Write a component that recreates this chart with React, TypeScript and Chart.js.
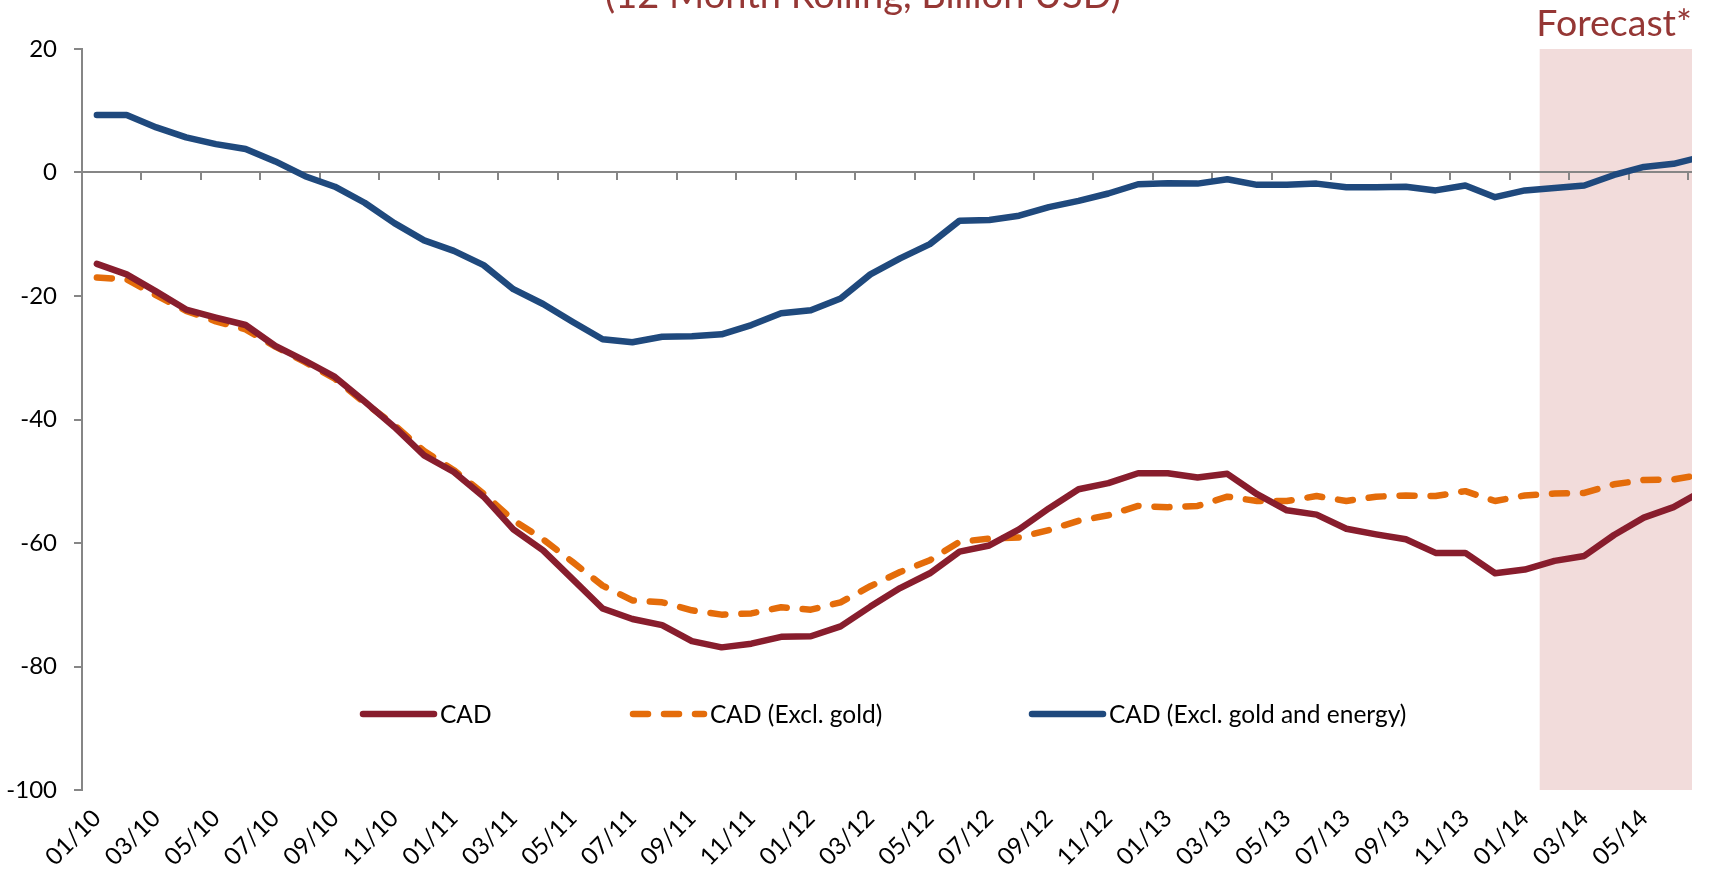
import React, { useEffect, useRef } from 'react';
import { Chart, registerables } from 'chart.js';

Chart.register(...registerables);

const MONTHS = [
  '01/10', '02/10', '03/10', '04/10', '05/10', '06/10', '07/10', '08/10', '09/10', '10/10', '11/10', '12/10',
  '01/11', '02/11', '03/11', '04/11', '05/11', '06/11', '07/11', '08/11', '09/11', '10/11', '11/11', '12/11',
  '01/12', '02/12', '03/12', '04/12', '05/12', '06/12', '07/12', '08/12', '09/12', '10/12', '11/12', '12/12',
  '01/13', '02/13', '03/13', '04/13', '05/13', '06/13', '07/13', '08/13', '09/13', '10/13', '11/13', '12/13',
  '01/14', '02/14', '03/14', '04/14', '05/14', '06/14', '07/14',
];

const CAD = [
  -14.8, -16.5, -19.3, -22.2, -23.5, -24.7, -28.1, -30.5, -33.1, -37.1, -41.2, -45.8,
  -48.5, -52.5, -57.8, -61.2, -65.9, -70.6, -72.3, -73.3, -75.9, -76.9, -76.3, -75.2,
  -75.1, -73.5, -70.3, -67.3, -64.9, -61.4, -60.4, -57.8, -54.4, -51.3, -50.3, -48.7,
  -48.7, -49.4, -48.8, -52.1, -54.7, -55.4, -57.7, -58.6, -59.4, -61.6, -61.6, -64.9,
  -64.3, -62.9, -62.1, -58.7, -55.9, -54.2, -51.5,
];

const CAD_EX_GOLD = [
  -17.0, -17.3, -19.9, -22.4, -24.1, -25.4, -28.2, -30.7, -33.4, -37.3, -40.9, -45.1,
  -48.2, -52.0, -56.3, -59.4, -63.1, -66.9, -69.3, -69.6, -70.9, -71.6, -71.4, -70.4,
  -70.8, -69.6, -67.0, -64.7, -62.8, -59.8, -59.3, -59.1, -57.9, -56.4, -55.5, -54.0,
  -54.2, -54.0, -52.5, -53.2, -53.2, -52.4, -53.2, -52.5, -52.3, -52.4, -51.6, -53.2,
  -52.3, -52.0, -51.9, -50.5, -49.8, -49.7, -48.9,
];

const CAD_EX_GOLD_ENERGY = [
  9.3, 9.3, 7.3, 5.7, 4.6, 3.8, 1.8, -0.6, -2.3, -4.9, -8.2, -11.0,
  -12.7, -15.0, -18.9, -21.3, -24.2, -27.0, -27.5, -26.6, -26.5, -26.2, -24.7, -22.8,
  -22.3, -20.4, -16.5, -13.9, -11.6, -7.8, -7.7, -7.0, -5.6, -4.6, -3.4, -1.9,
  -1.75, -1.8, -1.1, -2.0, -2.0, -1.8, -2.4, -2.4, -2.3, -2.9, -2.1, -4.0,
  -2.9, -2.5, -2.1, -0.4, 0.9, 1.4, 2.6,
];

const SERIES_NAMES = ['CAD', 'CAD (Excl. gold)', 'CAD (Excl. gold and energy)'];
const SERIES_COLORS = ['#881D2D', '#E46C0A', '#1F497D'];
const Y_TICKS = [20, 0, -20, -40, -60, -80, -100];
const X_LABEL_INDEX = [
  0, 2, 4, 6, 8, 10, 12, 14, 16, 18, 20, 22, 24, 26,
  28, 30, 32, 34, 36, 38, 40, 42, 44, 46, 48, 50, 52,
];
const FORECAST_START = 48.5; // boundary between 01/14 and 02/14
const X_MIN = -0.5;
const X_MAX = 53.62;
const TITLE = '(12 Month Rolling, Billion USD)';
const FORECAST_LABEL = 'Forecast*';

const FONT = 'Lato, "Open Sans", sans-serif';

const decor = {
  id: 'decor',
  beforeDatasetsDraw(chart: any) {
    const { ctx, chartArea: a, scales } = chart;
    const x = scales.x;
    const y = scales.y;
    ctx.save();
    const xs = x.getPixelForValue(FORECAST_START);
    ctx.fillStyle = '#F2DCDB';
    ctx.fillRect(xs, a.top, a.right - xs, a.bottom - a.top);

    const y0 = Math.round(y.getPixelForValue(0));
    ctx.strokeStyle = '#868686';
    ctx.lineWidth = 2;
    ctx.beginPath();
    ctx.moveTo(a.left, y0);
    ctx.lineTo(a.right, y0);
    for (let b = 1.5; b <= X_MAX; b += 2) {
      const px = Math.round(x.getPixelForValue(b));
      ctx.moveTo(px, y0);
      ctx.lineTo(px, y0 + 8);
    }
    ctx.stroke();
    ctx.restore();
  },
  afterDraw(chart: any) {
    const { ctx, chartArea: a } = chart;
    ctx.save();
    // title (cut at the top as in the reference)
    ctx.fillStyle = '#953735';
    ctx.font = `38px ${FONT}`;
    ctx.textAlign = 'center';
    ctx.textBaseline = 'alphabetic';
    ctx.fillText(TITLE, 863, 8);

    // forecast label
    ctx.fillStyle = '#953735';
    ctx.font = `37.5px ${FONT}`;
    ctx.textAlign = 'right';
    ctx.fillText(FORECAST_LABEL, a.right, a.top - 13);

    // legend
    const lineX = [363, 633, 1032];
    const ly = 714;
    const len = 71;
    ctx.font = `24.5px ${FONT}`;
    ctx.textAlign = 'left';
    ctx.textBaseline = 'middle';
    chart.data.datasets.forEach((ds: any, i: number) => {
      ctx.save();
      ctx.strokeStyle = ds.borderColor;
      ctx.lineWidth = ds.borderWidth;
      ctx.lineCap = 'round';
      ctx.setLineDash(ds.borderDash || []);
      ctx.beginPath();
      ctx.moveTo(lineX[i], ly);
      ctx.lineTo(lineX[i] + len, ly);
      ctx.stroke();
      ctx.restore();
      ctx.fillStyle = '#000';
      ctx.fillText(ds.label, lineX[i] + len + 6, ly + 1);
    });
    ctx.restore();
  },
};

function series(values: number[]) {
  return values.map((v, i) => ({ x: i, y: v }));
}

export default function App() {
  const ref = useRef<HTMLCanvasElement>(null);

  useEffect(() => {
    if (!ref.current) return;
    const common = {
      pointRadius: 0,
      pointHoverRadius: 0,
      tension: 0,
      borderWidth: 6.5,
      borderCapStyle: 'round',
      borderJoinStyle: 'round',
      fill: false,
    };
    const chart = new Chart(ref.current, {
      type: 'line',
      data: {
        datasets: [
          { ...common, label: SERIES_NAMES[0], data: series(CAD), borderColor: SERIES_COLORS[0] },
          { ...common, label: SERIES_NAMES[1], data: series(CAD_EX_GOLD), borderColor: SERIES_COLORS[1], borderDash: [15, 16] },
          { ...common, label: SERIES_NAMES[2], data: series(CAD_EX_GOLD_ENERGY), borderColor: SERIES_COLORS[2] },
        ] as any,
      },
      options: {
        animation: false,
        responsive: true,
        maintainAspectRatio: false,
        layout: { padding: { top: 49, right: 19, left: 0, bottom: 0 } },
        plugins: {
          legend: { display: false },
          tooltip: { enabled: false },
          title: { display: false },
        },
        scales: {
          x: {
            type: 'linear',
            min: X_MIN,
            max: X_MAX,
            grid: { display: false, drawTicks: false },
            border: { display: false },
            afterBuildTicks: (s: any) => {
              s.ticks = X_LABEL_INDEX.map((v) => ({ value: v }));
            },
            afterFit: (s: any) => {
              s.height = 85;
            },
            ticks: {
              autoSkip: false,
              minRotation: 45,
              maxRotation: 45,
              padding: 14,
              color: '#000',
              font: { family: FONT, size: 24 },
              callback: (v: any) => MONTHS[v as number],
            },
          },
          y: {
            min: -100,
            max: 20,
            afterBuildTicks: (s: any) => {
              s.ticks = Y_TICKS.map((v) => ({ value: v }));
            },
            afterFit: (s: any) => {
              s.width = 82;
            },
            grid: { drawOnChartArea: false, drawTicks: true, tickLength: 8, color: '#868686', lineWidth: 2 },
            border: { display: true, color: '#868686', width: 2 },
            ticks: { padding: 17, color: '#000', font: { family: FONT, size: 24 } },
          },
        } as any,
      },
      plugins: [decor],
    });
    return () => chart.destroy();
  }, []);

  return (
    <div style={{ position: 'fixed', left: 0, top: 0, width: 1711, height: 875, background: '#fff' }}>
      <canvas ref={ref} />
    </div>
  );
}
